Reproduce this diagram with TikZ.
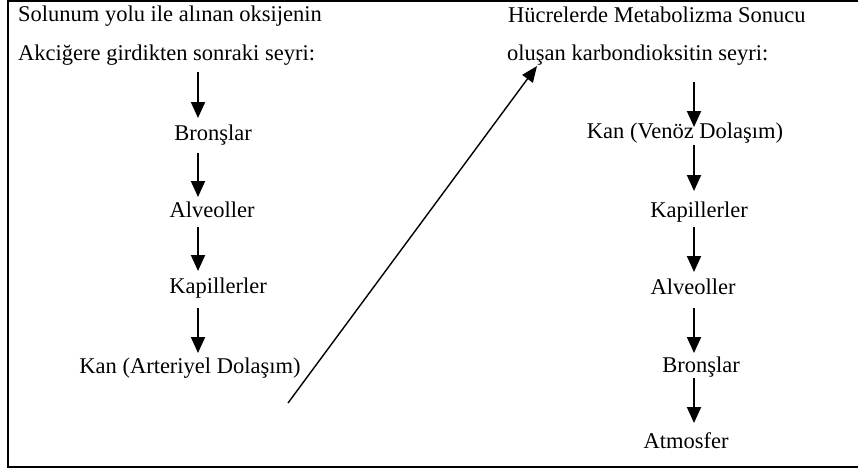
\documentclass[tikz,border=0pt]{standalone}
\usepackage{fontspec}
\setmainfont{Liberation Serif}
\usetikzlibrary{arrows.meta}
\begin{document}
\begin{tikzpicture}[x=1pt,y=-1pt,
  txt/.style={inner sep=0pt,anchor=base west,font=\fontsize{22.5pt}{27pt}\selectfont},
  ctr/.style={inner sep=0pt,anchor=base,font=\fontsize{22.5pt}{27pt}\selectfont},
  varrow/.style={line width=2pt,-{Triangle[width=14pt,length=16pt]}},
  darrow/.style={line width=1.4pt,-{Triangle[width=13pt,length=16pt]}}]
\useasboundingbox (0,0) rectangle (858,472);
% frame
\draw[line width=2pt] (858,1) -- (8,1) -- (8,467) -- (858,467);
% left header
\node[txt] (l1) at (18,21) {Solunum yolu ile alınan oksijenin};
\node[txt] (l2) at (18,60) {Akciğere girdikten sonraki seyri:};
% left column
\node[ctr] (lb) at (213,140) {Bronşlar};
\node[ctr] (la) at (212,217) {Alveoller};
\node[ctr] (lk) at (218,293) {Kapillerler};
\node[ctr] (lkan) at (190,373) {Kan (Arteriyel Dolaşım)};
% right header
\node[txt] (r1) at (508,22) {Hücrelerde Metabolizma Sonucu};
\node[txt] (r2) at (507,60) {oluşan karbondioksitin seyri:};
% right column
\node[ctr] (rkan) at (685,138) {Kan (Venöz Dolaşım)};
\node[ctr] (rk) at (699,217) {Kapillerler};
\node[ctr] (ra) at (693,294) {Alveoller};
\node[ctr] (rb) at (701,372) {Bronşlar};
\node[ctr] (rat) at (686,448) {Atmosfer};
% arrow coordinates left
\coordinate (a1s) at (198,72);  \coordinate (a1e) at (198,118);
\coordinate (a2s) at (198,153); \coordinate (a2e) at (198,197);
\coordinate (a3s) at (198,227); \coordinate (a3e) at (198,271);
\coordinate (a4s) at (198,308); \coordinate (a4e) at (198,353);
\draw[varrow] (a1s) -- (a1e);
\draw[varrow] (a2s) -- (a2e);
\draw[varrow] (a3s) -- (a3e);
\draw[varrow] (a4s) -- (a4e);
% arrow coordinates right
\coordinate (b1s) at (694,82);  \coordinate (b1e) at (694,127);
\coordinate (b2s) at (694,145); \coordinate (b2e) at (694,191);
\coordinate (b3s) at (694,227); \coordinate (b3e) at (694,272);
\coordinate (b4s) at (694,308); \coordinate (b4e) at (694,353);
\coordinate (b5s) at (694,378); \coordinate (b5e) at (694,423);
\draw[varrow] (b1s) -- (b1e);
\draw[varrow] (b2s) -- (b2e);
\draw[varrow] (b3s) -- (b3e);
\draw[varrow] (b4s) -- (b4e);
\draw[varrow] (b5s) -- (b5e);
% diagonal
\coordinate (ds) at (288,403);
\coordinate (de) at (537,66);
\draw[darrow] (ds) -- (de);
\end{tikzpicture}
\end{document}
